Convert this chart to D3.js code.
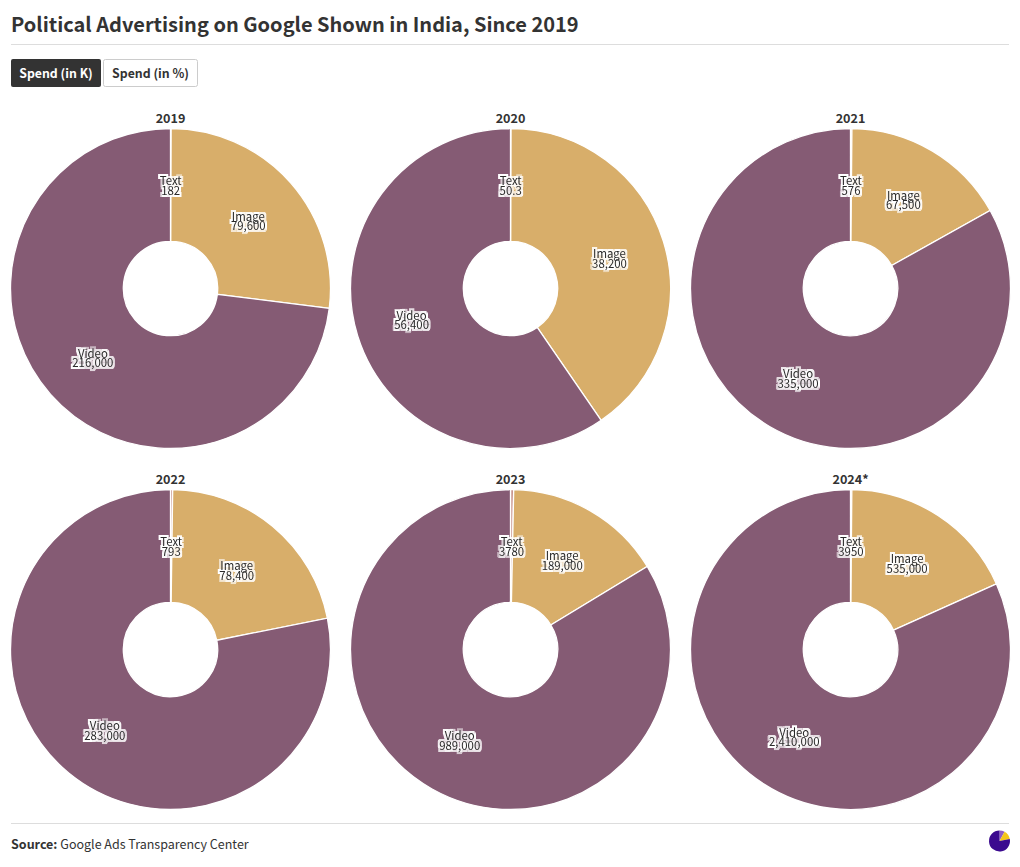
<!DOCTYPE html>
<html><head><meta charset="utf-8">
<script src="https://cdnjs.cloudflare.com/ajax/libs/d3/7.8.5/d3.min.js"></script>
<style>
html,body{margin:0;padding:0;background:#fff;}
svg{display:block;}
text{font-family:"Noto Sans CJK SC","Noto Sans",sans-serif;}
</style></head><body>
<svg id="c" width="1020" height="867"></svg>
<script>
const titleText="Political Advertising on Google Shown in India, Since 2019";
const buttons=["Spend (in K)","Spend (in %)"];
const years=["2019","2020","2021","2022","2023","2024*"];
const categories=["Text","Image","Video"];
const textValues=[182,50.3,576,793,3780,3950];
const imageValues=[79600,38200,67500,78400,189000,535000];
const videoValues=[216000,56400,335000,283000,989000,2410000];
const colors=["#c9968f","#d8ae6a","#855b74"];
const logoValues=[8,14,78];
const logoColors=["#8e5bc4","#f5c518","#3b0a8f"];

const svg=d3.select("#c");
const fmt=d3.format(",");
const R=160,r0=47.2;
const col=d3.scaleOrdinal().domain([0,1,2]).range([170.5,510.5,850.5]);
const row=d3.scaleOrdinal().domain([0,1]).range([288.5,649.5]);
const color=d3.scaleOrdinal().domain(categories).range(colors);
const pie=d3.pie().sort(null).value(d=>d.v);
const arc=d3.arc().innerRadius(r0).outerRadius(R);

const f=svg.append("defs").append("filter").attr("id","halo").attr("x","-30%").attr("y","-30%").attr("width","160%").attr("height","160%").attr("color-interpolation-filters","sRGB");
f.append("feMorphology").attr("in","SourceAlpha").attr("operator","dilate").attr("radius",1.6).attr("result","d");
f.append("feFlood").attr("flood-color","#fff").attr("result","w");
f.append("feComposite").attr("in","w").attr("in2","d").attr("operator","in").attr("result","h");
const m=f.append("feMerge");
m.append("feMergeNode").attr("in","h");
m.append("feMergeNode").attr("in","SourceGraphic");

svg.append("text").attr("x",11).attr("y",32).attr("font-size",20).attr("font-weight",700).attr("fill","#333").text(titleText);
svg.append("line").attr("x1",11).attr("x2",1009).attr("y1",44.5).attr("y2",44.5).attr("stroke","#ddd");

const bx=[[11,90],[103.5,94]];
buttons.forEach((b,i)=>{
  svg.append("rect").attr("x",bx[i][0]).attr("y",i?59.5:59).attr("width",bx[i][1]).attr("height",i?27:28).attr("rx",2)
    .attr("fill",i?"#fff":"#333").attr("stroke",i?"#ccc":"none");
  svg.append("text").attr("x",bx[i][0]+bx[i][1]/2).attr("y",78).attr("text-anchor","middle").attr("font-size",12.3).attr("font-weight",700)
    .attr("fill",i?"#333":"#fff").text(b);
});

years.forEach((y,i)=>{
  const cx=col(i%3),cy=row(Math.floor(i/3));
  const g=svg.append("g").attr("transform",`translate(${cx},${cy})`);
  const data=[textValues[i],imageValues[i],videoValues[i]].map((v,k)=>({c:categories[k],v}));
  const arcs=pie(data);
  g.selectAll("path").data(arcs).join("path").attr("d",arc).attr("fill",d=>color(d.data.c)).attr("stroke","#fff").attr("stroke-width",1.3);
  g.append("text").attr("y",-R-6).attr("text-anchor","middle").attr("font-size",12.6).attr("font-weight",700).attr("fill","#333").text(y);
  arcs.forEach(d=>{
    const [lx,ly]=arc.centroid(d);
    const t=g.append("text").attr("text-anchor","middle").attr("font-size",11.4).attr("fill","#2a2a2a").attr("filter","url(#halo)");
    [d.data.c,fmt(d.data.v).replace(/^(\d),(\d{3})$/,"$1$2")].forEach((s,k)=>{
      t.append("tspan").attr("x",lx).attr("y",ly+0.5+k*9.5).text(s);
    });
  });
});

svg.append("line").attr("x1",11).attr("x2",1009).attr("y1",823.5).attr("y2",823.5).attr("stroke","#ddd");
const src=svg.append("text").attr("x",11).attr("y",849).attr("font-size",12.5).attr("fill","#333");
src.append("tspan").attr("font-weight",700).text("Source: ");
src.append("tspan").text("Google Ads Transparency Center");

const lg=svg.append("g").attr("transform","translate(999.5,841)");
lg.selectAll("path").data(pie(logoValues.map((v,k)=>({v,k})))).join("path")
  .attr("d",d3.arc().innerRadius(0).outerRadius(10.5)).attr("fill",d=>logoColors[d.data.k]);
</script></body></html>
